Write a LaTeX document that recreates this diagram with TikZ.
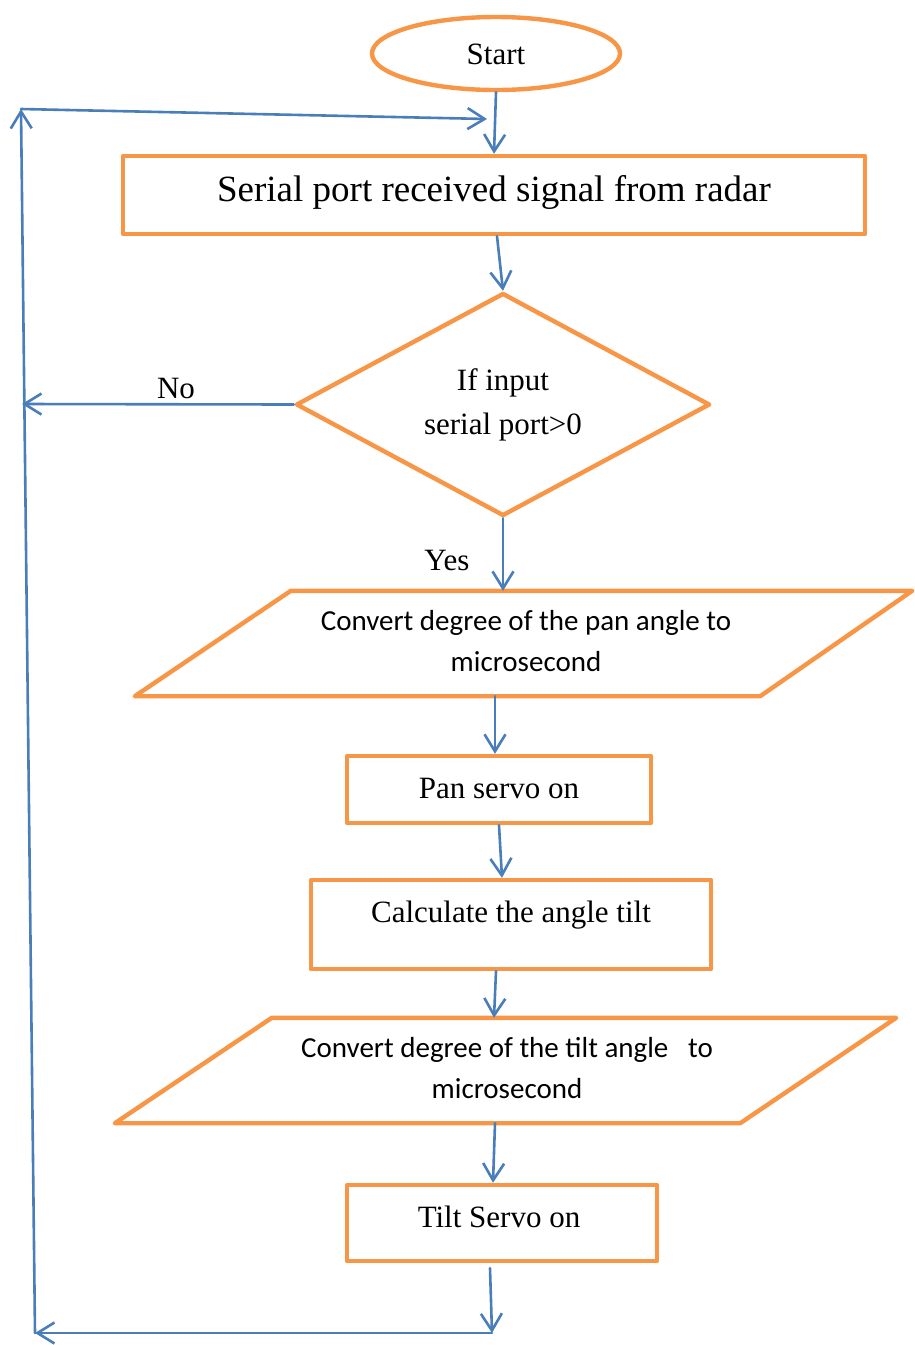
\documentclass[tikz,border=0pt]{standalone}
\usepackage{fontspec}
\setmainfont{Liberation Serif}
\newfontfamily\calibri{Carlito}
\usetikzlibrary{shapes.geometric,arrows.meta}
\definecolor{lineorange}{HTML}{F79646}
\definecolor{lineblue}{HTML}{4A7EBB}
\tikzset{
  obox/.style={draw=lineorange,line width=4.4pt,line join=round,inner sep=0pt},
  ghost/.style={draw=none,inner sep=0pt},
  arr/.style={draw=lineblue,line width=2.6pt,line cap=round,-{Straight Barb[length=17pt,width=21pt]}},
  tnorm/.style={font=\fontsize{31}{44}\selectfont,inner sep=0pt},
  tbig/.style={font=\fontsize{37}{44}\selectfont,inner sep=0pt},
  tcal/.style={font=\calibri\fontsize{29}{41}\selectfont,inner sep=0pt,align=center},
}
\begin{document}
\begin{tikzpicture}[x=1pt,y=-1pt]
\useasboundingbox (0,0) rectangle (914,1345);

% shapes
\node[obox,ellipse,minimum width=248pt,minimum height=73pt] (start) at (496,53.5) {};
\node[obox,rectangle,minimum width=742pt,minimum height=78pt] (rect1) at (494,195) {};
\node[obox,diamond,minimum width=414pt,minimum height=223pt] (dia) at (503,404.5) {};
\node[ghost,rectangle,minimum width=777pt,minimum height=105pt] (p1) at (523.5,643.5) {};
\draw[obox] ([xshift=156pt]p1.north west) -- (p1.north east)
   -- ([xshift=-152pt]p1.south east) -- (p1.south west) -- cycle;
\node[obox,rectangle,minimum width=304pt,minimum height=67pt] (pan) at (499,789.5) {};
\node[obox,rectangle,minimum width=400pt,minimum height=89pt] (calc) at (511,924.5) {};
\node[ghost,rectangle,minimum width=781pt,minimum height=105pt] (p2) at (505.5,1070.5) {};
\draw[obox] ([xshift=157pt]p2.north west) -- (p2.north east)
   -- ([xshift=-156pt]p2.south east) -- (p2.south west) -- cycle;
\node[obox,rectangle,minimum width=310pt,minimum height=76pt] (tilt) at (502,1223) {};

% texts
\node[tnorm,anchor=base] (tstart) at (496,64) {Start};
\node[tbig,anchor=base] (trect1) at (494,201) {Serial port received signal from radar};
\node[tnorm,align=center] (tdia) at (503,404.5) {If input\\serial port>0};
\node[tcal] (tp1) at (526,641) {Convert degree of the pan angle to\\microsecond};
\node[tnorm,anchor=base] (tpan) at (499,798) {Pan servo on};
\node[tnorm,anchor=base] (tcalc) at (511,922) {Calculate the angle tilt};
\node[tcal] (tp2) at (507,1068.5) {Convert degree of the tilt angle\ \ \ to\\microsecond};
\node[tnorm,anchor=base] (ttilt) at (499,1227) {Tilt Servo on};
\node[tnorm,anchor=base] (tno) at (176,398) {No};
\node[tnorm,anchor=base] (tyes) at (447,570) {Yes};

% loop coordinates
\coordinate (br) at (492,1333);
\coordinate (bl) at (35,1333);
\coordinate (tl) at (21,109);
\coordinate (tr) at (487,119);
\coordinate (nol) at (22,404);

% connectors
\draw[arr] (start.south) -- (rect1.north);
\draw[arr] ([xshift=3pt]rect1.south) -- (dia.north);
\draw[arr] (dia.south) -- (dia.south |- p1.north);
\draw[arr] ([xshift=-4pt]p1.south -| pan.north) -- ([xshift=-4pt]pan.north);
\draw[arr] (pan.south) -- ([xshift=3pt]pan.south |- calc.north);
\draw[arr] ([xshift=-15pt]calc.south) -- ([xshift=-11.5pt]p2.north);
\draw[arr] ([xshift=-10.5pt]p2.south) -- ([xshift=-9pt]tilt.north);
\draw[arr] ([xshift=-12pt,yshift=-5pt]tilt.south) -- (br);
\draw[arr] (br) -- (bl);
\draw[arr] (bl) -- (tl);
\draw[arr] (tl) -- (tr);
\draw[arr] (dia.west) -- (nol);
\end{tikzpicture}
\end{document}
